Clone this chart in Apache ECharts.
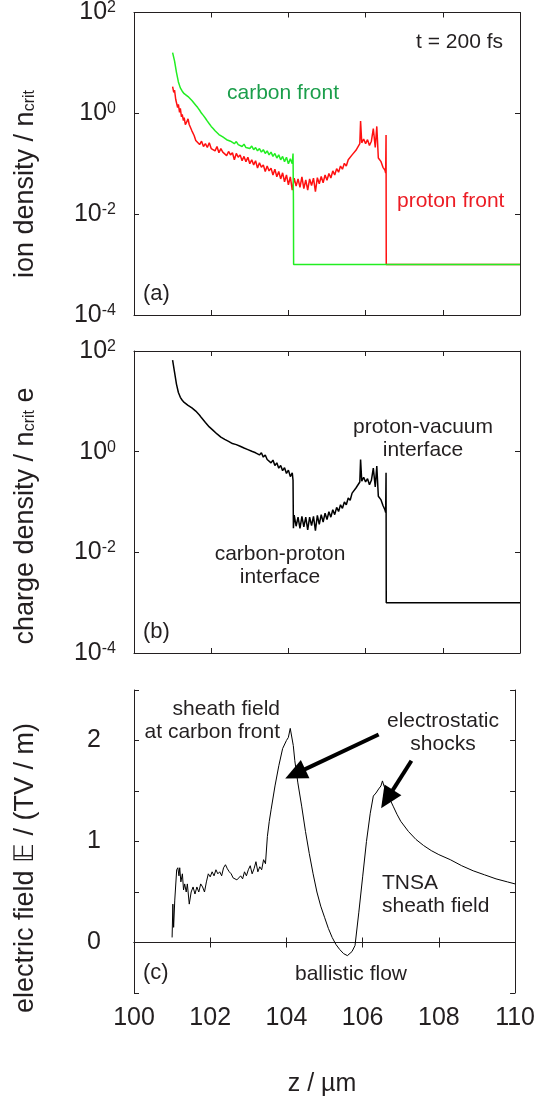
<!DOCTYPE html>
<html><head><meta charset="utf-8">
<script src="https://cdn.jsdelivr.net/npm/echarts@6/dist/echarts.min.js"></script>
<style>html,body{margin:0;padding:0;background:#fff}#c{width:538px;height:1101px}</style>
</head><body><div id="c"></div>
<script>
// ---------- data ----------
const zTickLabels = [100, 102, 104, 106, 108, 110];
const densityTickExponents = [-4, -2, 0, 2];
const fieldTickLabels = [0, 1, 2];

// panel (a): proton density (red), [z, n/ncrit]
const protonDensity = [
[101.00,3.4],[101.03,2.6],[101.05,2.9],[101.08,1.9],[101.10,2.0],[101.13,1.3],[101.15,1.5],[101.18,1.05],[101.20,1.25],[101.23,0.85],
[101.25,0.95],[101.28,0.72],[101.30,0.82],[101.33,0.6],[101.36,0.66],[101.40,0.78],[101.43,0.6],[101.46,0.64],[101.50,0.45],[101.53,0.42],
[101.56,0.36],[101.60,0.29],[101.65,0.3],[101.70,0.24],[101.75,0.28],[101.80,0.22],[101.85,0.25],[101.90,0.21],[101.95,0.26],[102.00,0.2],
[102.05,0.21],[102.10,0.18],[102.15,0.22],[102.20,0.165],[102.25,0.2],[102.30,0.17],[102.35,0.18],[102.40,0.145],[102.45,0.175],[102.50,0.15],
[102.55,0.165],[102.60,0.12],[102.65,0.16],[102.70,0.135],[102.75,0.15],[102.80,0.115],[102.85,0.14],[102.90,0.11],[102.95,0.135],[103.00,0.1],
[103.05,0.12],[103.10,0.095],[103.15,0.115],[103.20,0.082],[103.25,0.105],[103.30,0.085],[103.35,0.095],[103.40,0.07],[103.45,0.09],[103.50,0.072],
[103.55,0.082],[103.60,0.06],[103.65,0.078],[103.70,0.055],[103.75,0.07],[103.80,0.05],[103.85,0.066],[103.90,0.044],[103.95,0.06],[104.00,0.038],
[104.05,0.055],[104.10,0.03],[104.15,0.052],[104.20,0.036],[104.25,0.05],[104.30,0.034],[104.35,0.055],[104.40,0.032],[104.45,0.048],[104.50,0.03],
[104.55,0.05],[104.60,0.037],[104.65,0.052],[104.70,0.028],[104.75,0.053],[104.80,0.04],[104.85,0.056],[104.90,0.042],[104.95,0.06],[105.00,0.047],
[105.05,0.064],[105.10,0.052],[105.15,0.072],[105.20,0.06],[105.25,0.08],[105.30,0.068],[105.35,0.09],[105.40,0.078],[105.45,0.102],[105.50,0.09],
[105.55,0.12],[105.60,0.11],[105.65,0.15],[105.70,0.14],[105.75,0.185],[105.80,0.18],[105.85,0.25],[105.87,0.7],[105.90,0.26],[105.95,0.31],
[106.00,0.25],[106.05,0.3],[106.10,0.23],[106.15,0.28],[106.20,0.5],[106.25,0.21],[106.29,0.55],[106.33,0.13],[106.40,0.11],[106.45,0.085],
[106.50,0.075],[106.52,0.065],[106.53,0.37],[106.535,0.001],[110.00,0.001]
];

// panel (a): carbon density (green), [z, n/ncrit]
const carbonDensity = [
[101.00,16],[101.05,11],[101.10,6.5],[101.15,4.2],[101.20,3.2],[101.25,2.75],[101.30,2.45],[101.35,2.3],[101.40,2.15],[101.45,2.0],
[101.50,1.8],[101.55,1.65],[101.60,1.45],[101.65,1.3],[101.70,1.15],[101.75,1.0],[101.80,0.9],[101.85,0.8],[101.90,0.7],[101.95,0.62],
[102.00,0.55],[102.05,0.5],[102.10,0.45],[102.15,0.43],[102.20,0.38],[102.25,0.385],[102.30,0.34],[102.35,0.35],[102.40,0.3],[102.45,0.32],
[102.50,0.28],[102.55,0.29],[102.60,0.25],[102.65,0.275],[102.70,0.24],[102.75,0.255],[102.80,0.22],[102.85,0.245],[102.90,0.21],[102.95,0.23],
[103.00,0.2],[103.05,0.225],[103.10,0.19],[103.15,0.21],[103.20,0.18],[103.25,0.2],[103.30,0.17],[103.35,0.19],[103.40,0.16],[103.45,0.18],
[103.50,0.15],[103.55,0.17],[103.60,0.14],[103.65,0.16],[103.70,0.13],[103.75,0.15],[103.80,0.12],[103.85,0.14],[103.90,0.11],[103.95,0.135],
[104.00,0.1],[104.05,0.125],[104.10,0.1],[104.12,0.16],[104.13,0.02],[104.135,0.001],[110.00,0.001]
];

// panel (b): charge density (black), [z, rho/(ncrit e)]
const chargeDensity = [
[101.00,66],[101.05,38],[101.10,22],[101.15,15],[101.20,12],[101.25,10.5],[101.30,9.5],[101.35,8.8],[101.40,8.3],[101.45,7.8],
[101.50,7.4],[101.55,7.0],[101.60,6.4],[101.65,5.9],[101.70,5.3],[101.75,4.7],[101.80,4.3],[101.85,3.8],[101.90,3.5],[101.95,3.1],
[102.00,3.0],[102.05,2.65],[102.10,2.55],[102.15,2.25],[102.20,2.2],[102.25,1.95],[102.30,1.95],[102.35,1.75],[102.40,1.8],[102.45,1.6],
[102.50,1.65],[102.55,1.45],[102.60,1.55],[102.65,1.38],[102.70,1.45],[102.75,1.28],[102.80,1.35],[102.85,1.18],[102.90,1.26],[102.95,1.1],
[103.00,1.17],[103.05,1.02],[103.10,1.1],[103.15,0.95],[103.20,1.02],[103.25,0.86],[103.30,0.95],[103.35,0.78],[103.40,0.86],[103.45,0.7],
[103.50,0.76],[103.55,0.6],[103.60,0.68],[103.65,0.53],[103.70,0.6],[103.75,0.47],[103.80,0.53],[103.85,0.42],[103.90,0.48],[103.95,0.37],
[104.00,0.43],[104.05,0.32],[104.10,0.38],[104.12,0.27],[104.13,0.03],[104.15,0.055],[104.20,0.033],[104.25,0.05],[104.30,0.03],[104.35,0.052],
[104.40,0.032],[104.45,0.05],[104.50,0.028],[104.55,0.05],[104.60,0.034],[104.65,0.052],[104.70,0.027],[104.75,0.054],[104.80,0.036],[104.85,0.056],
[104.90,0.04],[104.95,0.06],[105.00,0.045],[105.05,0.064],[105.10,0.05],[105.15,0.07],[105.20,0.056],[105.25,0.078],[105.30,0.065],[105.35,0.088],
[105.40,0.075],[105.45,0.1],[105.50,0.088],[105.55,0.12],[105.60,0.108],[105.65,0.15],[105.70,0.138],[105.75,0.19],[105.80,0.175],[105.85,0.25],
[105.87,0.7],[105.90,0.26],[105.95,0.31],[106.00,0.25],[106.05,0.29],[106.10,0.22],[106.15,0.27],[106.20,0.47],[106.25,0.2],[106.29,0.52],
[106.33,0.13],[106.40,0.11],[106.45,0.085],[106.50,0.07],[106.52,0.062],[106.53,0.38],[106.535,0.001],[110.00,0.001]
];

// panel (c): electric field, [z, TV/m]
const electricField = [
[101.00,0.05],[101.02,0.38],[101.04,0.15],[101.07,0.42],[101.12,0.72],[101.15,0.74],[101.18,0.66],[101.20,0.74],[101.23,0.6],[101.27,0.68],
[101.30,0.52],[101.33,0.58],[101.37,0.5],[101.40,0.58],[101.45,0.38],[101.50,0.5],[101.55,0.55],[101.60,0.48],[101.65,0.55],[101.70,0.5],
[101.75,0.58],[101.80,0.55],[101.85,0.5],[101.90,0.6],[101.95,0.68],[102.00,0.65],[102.05,0.7],[102.10,0.66],[102.15,0.72],[102.20,0.68],
[102.25,0.7],[102.30,0.66],[102.35,0.74],[102.40,0.77],[102.45,0.73],[102.50,0.7],[102.55,0.68],[102.60,0.64],[102.65,0.63],[102.70,0.62],
[102.75,0.62],[102.80,0.66],[102.85,0.63],[102.90,0.7],[102.95,0.66],[103.00,0.72],[103.05,0.76],[103.10,0.68],[103.15,0.73],[103.20,0.8],
[103.25,0.7],[103.30,0.75],[103.35,0.72],[103.40,0.82],[103.45,0.78],[103.50,1.05],[103.55,1.2],[103.60,1.32],[103.70,1.55],[103.80,1.75],
[103.90,1.92],[104.00,2.0],[104.05,2.03],[104.10,2.12],[104.13,2.13],[104.18,1.95],[104.22,1.8],[104.30,1.58],[104.40,1.35],[104.50,1.1],
[104.60,0.88],[104.70,0.68],[104.80,0.5],[104.90,0.36],[105.00,0.25],[105.10,0.14],[105.20,0.05],[105.30,-0.02],[105.40,-0.07],[105.50,-0.11],
[105.55,-0.12],[105.60,-0.13],[105.65,-0.12],[105.72,-0.09],[105.80,-0.03],[105.90,0.3],[106.00,0.65],[106.10,1.0],[106.20,1.28],[106.28,1.45],
[106.35,1.48],[106.42,1.52],[106.48,1.55],[106.52,1.6],[106.56,1.55],[106.62,1.5],[106.70,1.43],[106.80,1.35],[106.90,1.27],[107.00,1.2],
[107.20,1.1],[107.40,1.02],[107.60,0.96],[107.80,0.91],[108.00,0.87],[108.30,0.82],[108.60,0.76],[108.90,0.71],[109.20,0.67],[109.50,0.63],
[109.80,0.6],[110.00,0.58]
];

// arrows for "electrostatic shocks": [zFrom, EFrom, zTo, ETo]
const shockArrows = [[106.42, 2.06, 104.23, 1.67], [107.28, 1.80, 106.64, 1.42]];

// ---------- chart ----------
const FONT = '"Liberation Sans", Arial, Helvetica, sans-serif';
const INK = '#231f20';
const chart = echarts.init(document.getElementById('c'), null, {renderer: 'canvas'});

const panels = [{top: 12, height: 303}, {top: 351, height: 302}, {top: 690, height: 303}];
const grids = panels.map(p => ({left: 134, width: 386, top: p.top, height: p.height, show: false}));

const tickStyle = {show: true, inside: true, length: 5, lineStyle: {color: INK, width: 1}};
const lineStyle = {show: true, lineStyle: {color: INK, width: 1}};

const xAxes = [];
const yAxes = [];
panels.forEach((p, i) => {
  const base = {gridIndex: i, type: 'value', min: zTickLabels[0], max: zTickLabels[zTickLabels.length - 1],
    interval: zTickLabels[1] - zTickLabels[0], axisLine: lineStyle, axisTick: tickStyle, splitLine: {show: false}};
  xAxes.push(Object.assign({}, base, {position: 'bottom',
    axisLabel: {show: i === 2, color: INK, fontFamily: FONT, fontSize: 25, margin: 13}}));
  xAxes.push(Object.assign({}, base, {position: 'top', axisLabel: {show: false}}));
  let ybase;
  if (i < 2) {
    ybase = {gridIndex: i, type: 'log', logBase: 10, min: Math.pow(10, densityTickExponents[0]),
      max: Math.pow(10, densityTickExponents[densityTickExponents.length - 1]), interval: 2, splitNumber: 3,
      axisLine: lineStyle, axisTick: tickStyle, splitLine: {show: false}, minorTick: {show: false}};
    yAxes.push(Object.assign({}, ybase, {position: 'left', axisLabel: {show: true, margin: 18,
      formatter: v => '{b|10}{s|' + Math.round(Math.log10(v)) + '}',
      rich: {b: {fontSize: 25, fontFamily: FONT, color: INK}, s: {fontSize: 16, fontFamily: FONT, color: INK, verticalAlign: 'top'}}}}));
  } else {
    ybase = {gridIndex: i, type: 'value', min: -0.5, max: 2.5, interval: 0.5,
      axisLine: lineStyle, axisTick: tickStyle, splitLine: {show: false}};
    yAxes.push(Object.assign({}, ybase, {position: 'left', axisLabel: {show: true, margin: 33, color: INK, fontFamily: FONT, fontSize: 25,
      formatter: v => (fieldTickLabels.indexOf(v) >= 0 ? String(v) : '')}}));
  }
  yAxes.push(Object.assign({}, ybase, {position: 'right', axisLabel: {show: false}}));
});

function txt(x, y, text, o) {
  o = o || {};
  return {type: 'text', x: x, y: y, silent: true, rotation: o.rotation || 0, z: 100,
    style: {text: text, fill: o.color || INK, fontSize: o.size || 21, fontFamily: FONT,
      align: o.align || 'left', textAlign: o.align || 'left', verticalAlign: 'middle', textVerticalAlign: 'middle',
      lineHeight: o.lh || 23, rich: o.rich}};
}
const subRich = {m: {fontSize: 27, fontFamily: FONT, fill: INK}, s: {fontSize: 16, fontFamily: FONT, fill: INK, verticalAlign: 'bottom'}};

const graphics = [
  txt(503, 42, 't = 200 fs', {align: 'right'}),
  txt(227, 93, 'carbon front', {color: '#1b9e4b'}),
  txt(397, 201, 'proton front', {color: '#ec1c24'}),
  txt(143, 294, '(a)', {size: 22}),
  txt(143, 632, '(b)', {size: 22}),
  txt(143, 973, '(c)', {size: 22}),
  txt(423, 439, 'proton-vacuum\ninterface', {align: 'center'}),
  txt(280, 566, 'carbon-proton\ninterface', {align: 'center'}),
  txt(280, 721, 'sheath field\nat carbon front', {align: 'right'}),
  txt(443, 733, 'electrostatic\nshocks', {align: 'center'}),
  txt(382, 895, 'TNSA\nsheath field', {align: 'left'}),
  txt(351, 974, 'ballistic flow', {align: 'center'}),
  txt(322, 1084, 'z / µm', {align: 'center', size: 25}),
  txt(26, 184, '{m|ion density / n}{s|crit}', {align: 'center', rotation: Math.PI / 2, rich: subRich}),
  txt(26, 516, '{m|charge density / n}{s|crit}{m| e}', {align: 'center', rotation: Math.PI / 2, rich: subRich}),
  txt(26, 868, 'electric field 𝔼 / (TV / m)', {align: 'center', rotation: Math.PI / 2, size: 27})
];

const common = {type: 'line', showSymbol: false, symbol: 'none', animation: false, silent: true};
const option = {
  animation: false,
  grid: grids,
  xAxis: xAxes,
  yAxis: yAxes,
  series: [
    Object.assign({}, common, {name: 'proton', xAxisIndex: 0, yAxisIndex: 0, data: protonDensity, lineStyle: {color: '#ff1010', width: 1.5}, z: 2}),
    Object.assign({}, common, {name: 'carbon', xAxisIndex: 0, yAxisIndex: 0, data: carbonDensity, lineStyle: {color: '#22ee22', width: 1.5}, z: 3}),
    Object.assign({}, common, {name: 'charge', xAxisIndex: 2, yAxisIndex: 2, data: chargeDensity, lineStyle: {color: '#000', width: 1.5}, z: 2}),
    Object.assign({}, common, {name: 'field', xAxisIndex: 4, yAxisIndex: 4, data: electricField, lineStyle: {color: '#000', width: 1}, z: 2,
      markLine: {silent: true, animation: false, symbol: ['none', 'triangle'], symbolSize: [20, 22],
        label: {show: false}, lineStyle: {color: '#000', width: 4, type: 'solid'},
        itemStyle: {color: '#000'},
        emphasis: {disabled: true},
        data: shockArrows.map(a => [{coord: [a[0], a[1]]}, {coord: [a[2], a[3]]}])}})
  ],
  graphic: graphics
};
chart.setOption(option);
</script></body></html>
